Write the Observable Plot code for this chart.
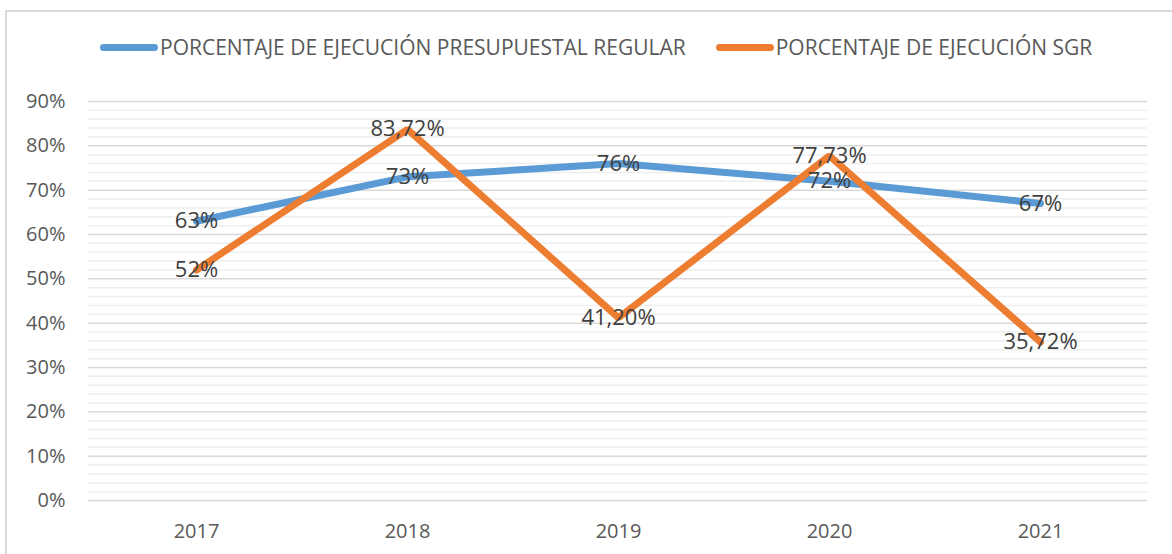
<!DOCTYPE html>
<html>
<head>
<meta charset="utf-8">
<script src="https://cdn.jsdelivr.net/npm/d3@7"></script>
<script src="https://cdn.jsdelivr.net/npm/@observablehq/plot@0.6"></script>
<style>
  html, body { margin: 0; padding: 0; background: #fff; }
  #wrap { position: relative; width: 1172px; height: 554px; overflow: hidden; font-family: "Open Sans", sans-serif; }
  #frame { position: absolute; left: 5px; top: 10px; width: 1200px; height: 600px; border: 2px solid #d9d9d9; box-sizing: border-box; }
  #legend { position: absolute; left: 100px; top: 33px; display: flex; align-items: center; font-size: 21px; color: #595959; white-space: nowrap; }
  .item { display: flex; align-items: center; }
  .sw { display: inline-block; width: 58px; height: 7px; border-radius: 4px; margin-right: 2px; }
  #chart { position: absolute; left: 0; top: 0; }
</style>
</head>
<body>
<div id="wrap">
  <div id="frame"></div>
  <div id="chart"></div>
  <div id="legend"></div>
</div>
<script>
const years = ["2017", "2018", "2019", "2020", "2021"];
const regular = [63, 73, 76, 72, 67];
const sgr = [52, 83.72, 41.20, 77.73, 35.72];
const seriesNames = ["PORCENTAJE DE EJECUCIÓN PRESUPUESTAL REGULAR", "PORCENTAJE DE EJECUCIÓN SGR"];
const colors = ["#5B9BD5", "#ED7D31"];
const yTicks = [0, 10, 20, 30, 40, 50, 60, 70, 80, 90];
const minorTicks = [2,4,6,8,12,14,16,18,22,24,26,28,32,34,36,38,42,44,46,48,52,54,56,58,62,64,66,68,72,74,76,78,82,84,86,88];

const fmt = v => (Number.isInteger(v) ? String(v) : v.toFixed(2).replace(".", ",")) + "%";
const rowsReg = years.map((y, i) => ({year: y, value: regular[i], series: seriesNames[0]}));
const rowsSgr = years.map((y, i) => ({year: y, value: sgr[i], series: seriesNames[1]}));

const chart = Plot.plot({
  width: 1172,
  height: 554,
  marginLeft: 88,
  marginRight: 25,
  marginTop: 101,
  marginBottom: 54,
  style: {fontFamily: "'Open Sans', sans-serif", background: "transparent"},
  x: {type: "point", domain: years, padding: 0.5, label: null},
  y: {domain: [0, 90], label: null},
  marks: [
    Plot.ruleY(minorTicks, {stroke: "#eeeeee", strokeWidth: 1.5}),
    Plot.ruleY(yTicks, {stroke: "#d9d9d9", strokeWidth: 1.5}),
    Plot.axisY({ticks: yTicks, tickSize: 0, tickPadding: 23, tickFormat: d => d + "%", fontSize: 20, fill: "#595959", label: null}),
    Plot.axisX({tickSize: 0, tickPadding: 23, fontSize: 20, fill: "#595959", label: null}),
    Plot.line(rowsReg, {x: "year", y: "value", stroke: colors[0], strokeWidth: 7, strokeLinejoin: "round", strokeLinecap: "round"}),
    Plot.line(rowsSgr, {x: "year", y: "value", stroke: colors[1], strokeWidth: 7, strokeLinejoin: "miter", strokeLinecap: "round"}),
    Plot.text(rowsReg, {x: "year", y: "value", text: d => fmt(d.value), fontSize: 22, fill: "#404040"}),
    Plot.text(rowsSgr, {x: "year", y: "value", text: d => fmt(d.value), fontSize: 22, fill: "#404040"})
  ]
});
document.getElementById("chart").appendChild(chart);

const legend = document.getElementById("legend");
seriesNames.forEach((name, i) => {
  const item = document.createElement("div");
  item.className = "item";
  if (i > 0) item.style.marginLeft = "30px";
  const sw = document.createElement("span");
  sw.className = "sw";
  sw.style.background = colors[i];
  const t = document.createElement("span");
  t.textContent = name;
  item.appendChild(sw);
  item.appendChild(t);
  legend.appendChild(item);
});
</script>
</body>
</html>
